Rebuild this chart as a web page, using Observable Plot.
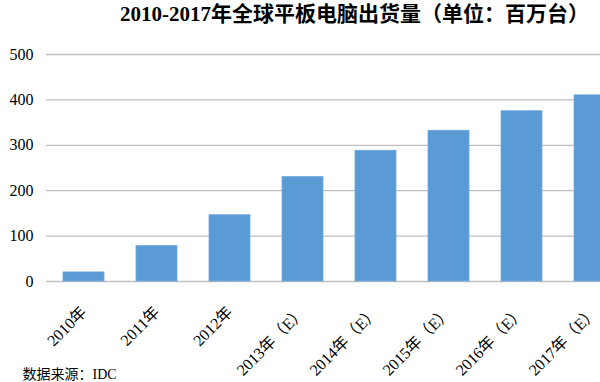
<!DOCTYPE html>
<html><head><meta charset="utf-8">
<script src="https://cdn.jsdelivr.net/npm/d3@7"></script>
<script src="https://cdn.jsdelivr.net/npm/@observablehq/plot@0.6"></script>
<style>body{margin:0;background:#fff}</style>
</head><body><div id="chart"></div>
<script>
const categories = ["2010年","2011年","2012年","2013年（E）","2014年（E）","2015年（E）","2016年（E）","2017年（E）"];
const shipments = [20, 78, 146, 230, 288, 332, 375, 410];
const yTicks = [0, 100, 200, 300, 400, 500];
const titleText = "2010-2017年全球平板电脑出货量（单位：百万台）";
const sourceText = "数据来源：IDC";

const data = categories.map((c, i) => ({category: c, value: shipments[i]}));

const chart = Plot.plot({
  width: 600, height: 382,
  marginTop: 54, marginBottom: 101, marginLeft: 46, marginRight: 0,
  style: {fontFamily: "'Liberation Serif', 'Noto Sans CJK SC', serif", fontSize: "15px", color: "#000", background: "#fff", overflow: "hidden"},
  x: {domain: categories, range: [46, 632], paddingInner: 0.44, paddingOuter: 0.22, axis: null},
  y: {domain: [0, 500], axis: null},
  marks: [
    Plot.ruleY(yTicks, {stroke: "#BFBFBF", strokeWidth: 1.3}),
    Plot.barY(data, {x: "category", y: "value", fill: "#5B9BD5", stroke: "#6FA8DC", strokeWidth: 0.8}),
    Plot.axisY({ticks: yTicks, label: null, tickSize: 0, tickPadding: 13, fontSize: 16, fill: "#000", ariaLabel: "ylabels"}),
    Plot.text(data, {x: "category", text: "category", frameAnchor: "bottom", lineAnchor: "middle", rotate: -45, textAnchor: "end", dx: 0, dy: 28, fontSize: 16, fill: "#000", ariaLabel: "xlabels"}),
    Plot.text([titleText], {frameAnchor: "top", lineAnchor: "middle", dx: 31, dy: -40, fontSize: 21, fontWeight: "bold", fill: "#000", ariaLabel: "title"}),
    Plot.text([sourceText], {frameAnchor: "bottom-left", lineAnchor: "middle", textAnchor: "start", dx: -24, dy: 93, fontSize: 14, fill: "#000", ariaLabel: "source"})
  ]
});
document.getElementById("chart").appendChild(chart);
d3.select(chart).selectAll("g[aria-label=title] text").style("letter-spacing", "5px");
d3.select(chart).selectAll("g[aria-label=ylabels] text").style("letter-spacing", "2px");
d3.select(chart).selectAll("g[aria-label=xlabels] text").style("letter-spacing", "2px");
d3.select(chart).selectAll("g[aria-label=source] text").style("letter-spacing", "2px");
</script>
</body></html>
